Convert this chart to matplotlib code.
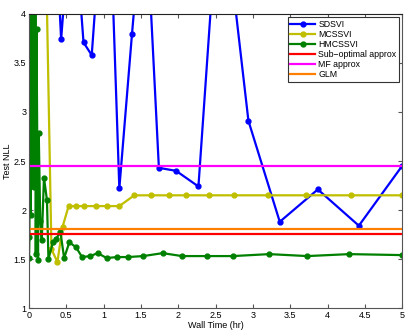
import matplotlib
matplotlib.use("Agg")
import matplotlib.pyplot as plt

plt.rcParams['font.family'] = ['Liberation Sans', 'DejaVu Sans']

# SDSVI (points above 4 run off the top of the axes)
sd_x = [0.02, 0.25, 0.43, 0.58, 0.73, 0.84, 1.05, 1.21, 1.38, 1.55, 1.74, 1.97, 2.27, 2.56,
        2.94, 3.36, 3.87, 4.42, 5.0]
sd_y = [9.0, 6.5, 3.74, 5.24, 3.71, 3.58, 5.8, 2.22, 3.80, 5.3, 2.43, 2.40, 2.24, 5.42,
        2.91, 1.88, 2.21, 1.84, 2.45]

# MCSSVI
mc_x = [0.0, 0.2, 0.3, 0.38, 0.45, 0.53, 0.63, 0.73, 0.90, 1.04, 1.21, 1.41, 1.64, 1.87,
        2.11, 2.41, 2.74, 3.2, 3.71, 4.32, 5.0]
mc_y = [9.0, 5.7, 1.6, 1.47, 1.83, 2.04, 2.04, 2.04, 2.04, 2.04, 2.04, 2.15, 2.15, 2.15,
        2.15, 2.15, 2.15, 2.15, 2.15, 2.15, 2.15]

# HMCSSVI
hm_x = [0.0, 0.005, 0.01, 0.02, 0.025, 0.03, 0.035, 0.045, 0.05, 0.06, 0.065, 0.07, 0.075,
        0.08, 0.085, 0.09, 0.1, 0.12, 0.13, 0.15, 0.17, 0.2, 0.24, 0.26, 0.32, 0.36, 0.42,
        0.47, 0.54, 0.63, 0.71, 0.82, 0.92, 1.04, 1.18, 1.32, 1.53, 1.79, 2.05, 2.38, 2.73,
        3.22, 3.73, 4.29, 5.0]
hm_y = [1.51, 1.72, 5.0, 1.95, 6.0, 2.25, 5.5, 2.5, 6.0, 2.23, 5.0, 2.25, 5.5,
        2.6, 4.8, 1.55, 3.85, 1.49, 2.79, 1.89, 1.69, 2.33, 2.10, 1.50, 1.67, 1.70, 1.78,
        1.51, 1.67, 1.62, 1.52, 1.53, 1.56, 1.51, 1.52, 1.52, 1.53, 1.56, 1.53, 1.53, 1.53,
        1.55, 1.53, 1.55, 1.54]

suboptimal = 1.76
mf_approx = 2.45
glm = 1.81

fig = plt.figure(figsize=(4.15, 3.33), dpi=100)
ax = fig.add_axes([0.070, 0.075, 0.899, 0.883])

ax.plot(sd_x, sd_y, '-o', color=(0, 0, 1), lw=1.6, ms=3.5, label='SDSVI')
ax.plot(mc_x, mc_y, '-o', color=(0.75, 0.75, 0), lw=1.6, ms=3.5, label='MCSSVI')
ax.plot(hm_x, hm_y, '-o', color=(0, 0.5, 0), lw=1.6, ms=3.5, label='HMCSSVI')
ax.axhline(suboptimal, color=(1, 0, 0), lw=1.6, label='Sub\u2212optimal approx')
ax.axhline(mf_approx, color=(1, 0, 1), lw=1.6, label='MF approx')
ax.axhline(glm, color=(1, 0.5, 0), lw=1.6, label='GLM')

ax.set_xlim(0, 5)
ax.set_ylim(1, 4)
ax.set_xticks([0, 0.5, 1, 1.5, 2, 2.5, 3, 3.5, 4, 4.5, 5])
ax.set_xticklabels(['0', '0.5', '1', '1.5', '2', '2.5', '3', '3.5', '4', '4.5', '5'])
ax.set_yticks([1, 1.5, 2, 2.5, 3, 3.5, 4])
ax.set_yticklabels(['1', '1.5', '2', '2.5', '3', '3.5', '4'])
ax.tick_params(direction='in', top=True, right=True, labelsize=6.5, length=3,
               color='#555555', pad=2)
for s in ax.spines.values():
    s.set_color('#555555')
    s.set_linewidth(0.8)
ax.spines['top'].set_color('#222222')

ax.set_xlabel('Wall Time (hr)', fontsize=6.5, labelpad=1)
ax.set_ylabel('Test NLL', fontsize=6.5)
ax.yaxis.set_label_coords(-0.045, 0.5)

leg = ax.legend(loc='upper right', fontsize=6.3, fancybox=False, framealpha=1,
                edgecolor='#333333', borderpad=0.3, labelspacing=0.12,
                handlelength=2.8, handletextpad=0.4, borderaxespad=0.35)
leg.get_frame().set_linewidth(0.8)

fig.savefig('out.png', dpi=100)
